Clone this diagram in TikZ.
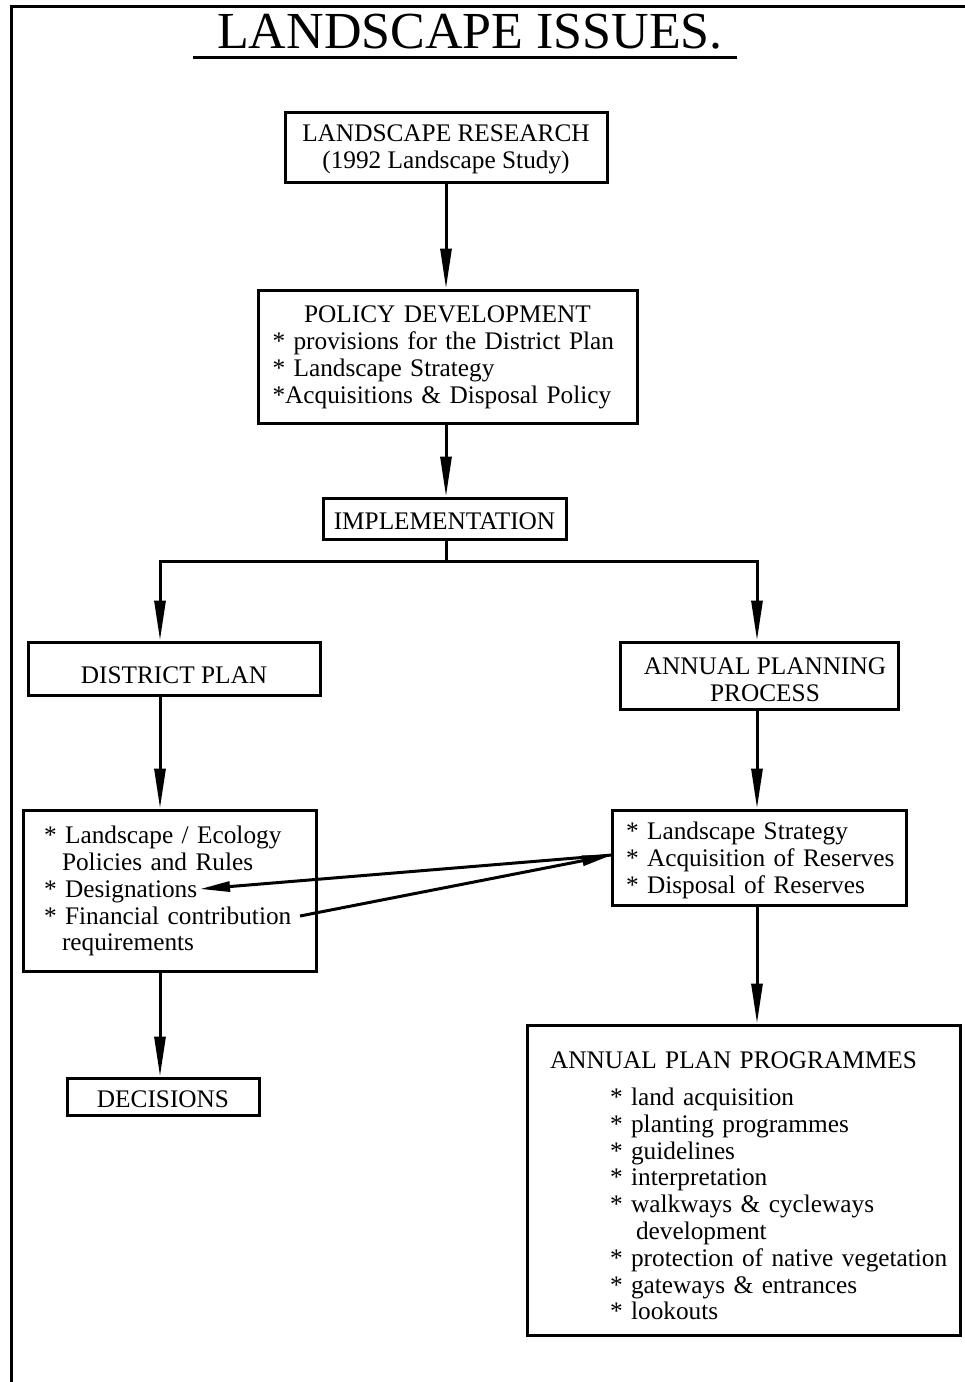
\documentclass[tikz,border=0pt]{standalone}
\usepackage{fontspec}
\setmainfont{Liberation Serif}
\usetikzlibrary{arrows.meta,calc}
\newcommand\bodyfont{\fontsize{25.3}{26.8}\selectfont}
\newcommand\topr[1]{\rule{0pt}{#1pt}}
\begin{document}
\begin{tikzpicture}[x=1pt,y=-1pt,
  box/.style={draw, line width=3pt, inner sep=0pt, align=center, font=\bodyfont},
  lbox/.style={draw, line width=3pt, inner ysep=0pt, align=left, font=\bodyfont},
  arr/.style={line width=3pt, -{Triangle[length=40pt,width=11pt]}},
  sarr/.style={line width=3pt, -{Triangle[length=30pt,width=10pt]}},
  rule/.style={line width=3pt}]
\useasboundingbox (0,0) rectangle (965,1382);

% frame
\coordinate (fbl) at (11.7,1382);
\coordinate (ftl) at (11.7,6.5);
\coordinate (ftr) at (965,6.5);
\draw[rule] (fbl) -- (ftl) -- (ftr);

% title
\node[font=\fontsize{52}{52}\selectfont, inner sep=0pt, anchor=base] (title) at (470,48) {LANDSCAPE ISSUES.};
\coordinate (ula) at (193,57);
\coordinate (ulb) at (737,57);
\draw[rule] (ula) -- (ulb);

% boxes
\node[box, minimum width=322pt, minimum height=70pt] (research) at (446,147)
  {\topr{21}LANDSCAPE RESEARCH\\(1992 Landscape Study)};

\node[lbox, text width=350pt, inner xsep=14.5pt, minimum height=133pt] (policy) at (447.5,356.5)
  {\topr{19}\makebox[\linewidth]{POLICY DEVELOPMENT}\\[0.2pt]{}\mbox{* provisions for the District Plan}\\[0.2pt]{}\mbox{* Landscape Strategy}\\[0.2pt]{}\mbox{*Acquisitions \& Disposal Policy}};

\node[box, minimum width=243pt, minimum height=41pt] (impl) at (444.5,518.5) {\topr{23}IMPLEMENTATION};

\node[box, minimum width=292pt, minimum height=53pt] (district) at (174,668.5) {\topr{30}DISTRICT PLAN};

\node[box, minimum width=278pt, minimum height=67pt] (annual) at (759,675.5)
  {\topr{25}\hspace*{12pt}ANNUAL PLANNING\\\hspace*{12pt}PROCESS};

\node[lbox, text width=251pt, inner xsep=21pt, minimum height=161pt] (leftlist) at (169.5,890.5)
  {\topr{19}\mbox{* Landscape / Ecology}\\\hspace*{18pt}\mbox{Policies and Rules}\\{}\mbox{* Designations}\\{}\mbox{* Financial contribution}\\\hspace*{18pt}\mbox{requirements}};

\node[lbox, text width=266pt, inner xsep=14pt, minimum height=95pt] (rightlist) at (759,857.5)
  {\topr{23}\mbox{* Landscape Strategy}\\{}\mbox{* Acquisition of Reserves}\\{}\mbox{* Disposal of Reserves}};

\node[box, minimum width=192pt, minimum height=37pt] (decisions) at (163,1096.5) {\topr{23}DECISIONS};

\node[lbox, text width=387pt, inner xsep=23pt, minimum height=310pt] (app) at (743.5,1180)
  {\topr{29}\mbox{ANNUAL PLAN PROGRAMMES}\\[10pt]
   \hspace*{60pt}\mbox{* land acquisition}\\
   \hspace*{60pt}\mbox{* planting programmes}\\
   \hspace*{60pt}\mbox{* guidelines}\\
   \hspace*{60pt}\mbox{* interpretation}\\
   \hspace*{60pt}\mbox{* walkways \& cycleways}\\
   \hspace*{86pt}\mbox{development}\\
   \hspace*{60pt}\mbox{* protection of native vegetation}\\
   \hspace*{60pt}\mbox{* gateways \& entrances}\\
   \hspace*{60pt}\mbox{* lookouts}};

% connectors
\coordinate (jM) at (446,561);
\coordinate (jL) at (160,561);
\coordinate (jR) at (757,561);

\draw[arr] (research.south) -- (policy.north -| research.south);
\draw[arr] (policy.south -| research.south) -- (impl.north -| research.south);
\draw[rule] (impl.south -| jM) -- (jM);
\draw[rule, line cap=rect] (jL) -- (jR);
\draw[arr] (jL) -- (jL |- district.north);
\draw[arr] (jR) -- (jR |- annual.north);
\draw[arr] (district.south -| jL) -- (leftlist.north -| jL);
\draw[arr] (annual.south -| jR) -- (rightlist.north -| jR);
\draw[arr] (leftlist.south -| jL) -- (decisions.north -| jL);
\draw[arr] (rightlist.south -| jR) -- (app.north -| jR);

% crossing arrows
\coordinate (acq) at (612,855);
\coordinate (desg) at (200,889);
\coordinate (fin) at (300,916);
\draw[sarr] (acq) -- (desg);
\draw[sarr] (fin) -- (acq);
\end{tikzpicture}
\end{document}
